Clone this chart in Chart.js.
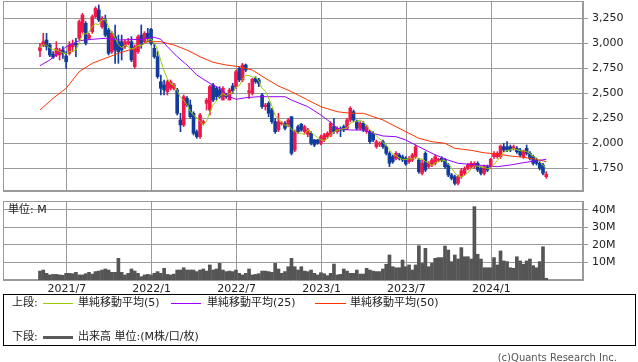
<!DOCTYPE html>
<html>
<head>
<meta charset="utf-8">
<script src="https://cdn.jsdelivr.net/npm/chart.js@4.4.1/dist/chart.umd.min.js"></script>
<style>
body { margin:0; background:#fff; font-family:"DejaVu Sans","Noto Sans CJK JP",sans-serif; }
#wrap { position:relative; width:638px; height:362px; overflow:hidden; }
#price { position:absolute; left:0; top:0; }
#vol { position:absolute; left:0; top:195px; }
.t { position:absolute; font-size:11px; color:#222; white-space:nowrap; line-height:13px; }
.ln { position:absolute; height:1px; }
#legend { position:absolute; left:3px; top:294px; width:633px; height:52px; border:1px solid #000; box-sizing:border-box; }
</style>
</head>
<body>
<div id="wrap">
  <canvas id="price" width="638" height="193"></canvas>
  <canvas id="vol" width="638" height="100"></canvas>
  <span class="t" style="left:8px;top:203px">単位: M</span>
  <div id="legend">
    <span class="t" style="left:8px;top:1px">上段:</span>
    <span class="ln" style="left:39px;top:8px;width:30px;background:#99cc00"></span>
    <span class="t" style="left:74px;top:1px">単純移動平均(5)</span>
    <span class="ln" style="left:167px;top:8px;width:30px;background:#9900ff"></span>
    <span class="t" style="left:203px;top:1px">単純移動平均(25)</span>
    <span class="ln" style="left:311px;top:8px;width:31px;background:#ff3300"></span>
    <span class="t" style="left:346px;top:1px">単純移動平均(50)</span>
    <span class="t" style="left:8px;top:35px">下段:</span>
    <span class="ln" style="left:39px;top:41px;width:30px;height:3px;background:#5a5a5a"></span>
    <span class="t" style="left:74px;top:35px">出来高 単位:(M株/口/枚)</span>
  </div>
  <span class="t" style="right:21px;top:351px;color:#555;font-size:10px">(c)Quants Research Inc.</span>
</div>
<script>
// weekly candles, index 0 = first week shown (May 2021)
var opens = [2926,2976,3033,2983,2890,2883,2883,2933,2873,2900,
2966,3000,3050,3116,3200,3050,3116,3266,3333,3166,
3233,3133,2916,3066,3016,3016,2966,3000,3016,2766,
2916,3083,3016,3100,3140,2950,2866,2616,2583,2516,
2550,2550,2533,2233,2183,2450,2383,2300,2116,2066,
2200,2400,2333,2583,2550,2533,2433,2483,2433,2573,
2566,2750,2633,2783,2510,2500,2650,2633,2483,2366,
2400,2333,2216,2133,2195,2200,2183,2266,1933,2166,
2190,2116,2090,2100,2033,2033,2000,2033,2066,2083,
2166,2116,2150,2166,2150,2233,2316,2216,2150,2200,
2116,2116,2100,1966,1990,2016,1966,1900,1866,1850,
1883,1866,1850,1816,1833,1866,1833,1700,1900,1766,
1783,1800,1830,1850,1833,1783,1683,1666,1600,1666,
1700,1750,1766,1766,1800,1750,1700,1766,1766,1866,
1866,1866,1966,1966,1966,1950,1950,1933,1866,1950,
1900,1866,1833,1800,1783,1666];
var highs = [2999,3100,3100,3000,2916,3016,2950,2966,2916,3016,
3033,3050,3233,3300,3216,3100,3283,3366,3383,3266,
3283,3150,3116,3183,3083,3083,3033,3050,3066,2983,
3083,3183,3116,3150,3150,3000,2916,2683,2633,2633,
2633,2600,2550,2300,2483,2466,2433,2316,2133,2300,
2233,2450,2583,2600,2566,2566,2566,2500,2550,2600,
2733,2766,2800,2793,2600,2650,2666,2650,2500,2400,
2416,2350,2250,2300,2216,2216,2250,2266,2133,2183,
2200,2180,2150,2116,2040,2040,2083,2100,2116,2216,
2250,2166,2166,2183,2250,2366,2333,2233,2216,2216,
2183,2133,2116,2033,2016,2033,1983,1916,1883,1916,
1900,1883,1866,1866,1900,1983,1850,1833,1916,1816,
1850,1883,1850,1866,1850,1800,1700,1683,1683,1750,
1766,1800,1816,1816,1816,1766,1783,1783,1850,1916,
1916,1983,2000,2016,1983,1983,1966,1950,1933,1983,
1916,1883,1850,1816,1800,1716];
var lows = [2866,2966,2933,2866,2850,2866,2833,2850,2750,2883,
2916,2866,3033,3100,2983,3040,3100,3250,3216,3150,
3066,2883,2900,2800,2800,2833,2950,2983,2816,2750,
2900,2950,3000,3016,2983,2850,2650,2483,2483,2483,
2533,2533,2283,2116,2166,2366,2250,2083,2050,2050,
2183,2333,2283,2416,2433,2450,2433,2450,2433,2500,
2550,2616,2616,2716,2450,2483,2600,2566,2350,2333,
2266,2200,2100,2116,2183,2133,2166,1883,1916,2100,
2120,2100,2066,1983,1966,1990,1983,2016,2050,2066,
2100,2100,2066,2116,2133,2216,2216,2133,2133,2116,
2100,2000,2016,1950,1966,1950,1883,1766,1800,1833,
1833,1816,1780,1800,1816,1850,1700,1683,1716,1750,
1766,1783,1816,1816,1750,1666,1633,1583,1583,1650,
1683,1733,1750,1750,1716,1683,1683,1716,1750,1850,
1850,1850,1916,1916,1916,1933,1900,1866,1850,1883,
1833,1783,1783,1733,1683,1650];
var closes = [2956,3016,2966,2883,2860,2950,2933,2900,2816,2983,
2990,2983,3216,3283,3000,3080,3266,3350,3233,3250,
3083,2900,3100,2933,2916,2933,3016,3016,2833,2966,
3066,3000,3100,3050,3000,2866,2666,2550,2533,2616,
2616,2583,2300,2183,2466,2383,2266,2100,2066,2283,
2216,2433,2566,2433,2466,2466,2550,2466,2533,2526,
2716,2633,2783,2733,2525,2640,2616,2600,2366,2383,
2300,2216,2116,2216,2205,2150,2233,1900,2116,2116,
2133,2166,2133,2000,1983,2000,2066,2083,2100,2200,
2116,2150,2130,2133,2233,2350,2233,2150,2200,2133,
2166,2016,2033,2016,2000,1966,1900,1800,1816,1900,
1850,1833,1793,1850,1883,1966,1716,1800,1733,1800,
1833,1866,1840,1826,1766,1683,1650,1600,1666,1726,
1750,1783,1800,1800,1733,1700,1766,1733,1840,1900,
1900,1973,1933,1933,1933,1966,1916,1883,1926,1900,
1850,1800,1800,1750,1700,1690];
// volume, millions
var volumes = [5.1,5.7,3.8,2.9,3.2,3.2,2.9,2.7,3.8,3.8,
3.6,4.4,2.9,2.9,3.6,4.4,3.4,4.8,5.1,5.7,
6.3,5.7,4.4,4.4,12.4,4.4,2.9,3.8,6.3,5.1,
3.8,1.9,2.9,3.2,2.9,3.8,4.8,3.8,6.7,3.2,
2.9,3.4,5.7,5.7,7.0,5.7,5.7,5.7,4.8,5.7,
6.3,5.1,8.6,5.7,6.3,9.5,5.7,4.8,5.1,4.8,
5.7,3.8,2.9,3.8,6.3,2.9,3.2,3.6,5.1,5.1,
4.8,4.4,9.5,6.3,3.8,4.8,7.6,12.4,7.6,5.7,
7.6,5.1,4.8,5.7,3.8,2.9,4.2,3.6,2.5,3.8,
9.1,2.9,3.2,6.3,5.1,3.8,3.8,5.7,3.4,3.4,
6.7,5.7,5.1,4.8,4.8,6.3,9.0,14.3,7.6,7.0,
7.0,11.4,7.6,8.6,5.7,8.6,19.6,9.5,18.1,7.6,
9.5,12.4,12.8,12.8,19.4,17.1,10.5,14.3,12.0,18.5,
13.3,13.3,12.0,41.9,14.7,12.0,7.0,7.0,7.0,12.8,
8.6,16.6,10.9,10.5,7.0,6.7,13.3,10.9,9.0,10.9,
12.0,8.2,7.0,10.5,19.0,1.0];
// moving averages (week index, value)
var ma25Idx = [0,3,8,12,16,20,24,31,35,37,39,42,45,48,52,55,58,60,63,67,75,77,82,86,88,91,95,99,102,105,109,112,116,120,124,128,134,140,144,148,152,155];
var ma25Val = [2776,2833,2966,3026,3040,3050,3033,3040,3060,3040,2966,2866,2783,2683,2600,2550,2466,2440,2456,2466,2466,2433,2366,2283,2233,2150,2133,2133,2100,2073,2066,2033,1966,1900,1843,1800,1783,1766,1783,1806,1826,1840];
var ma50Idx = [0,4,8,12,16,20,24,29,33,37,41,45,49,53,57,61,65,69,73,77,82,86,91,95,99,105,112,116,120,124,127,132,136,140,144,148,152,155];
var ma50Val = [2333,2450,2550,2716,2800,2850,2900,2950,3016,3016,2983,2933,2866,2810,2783,2766,2733,2650,2573,2516,2433,2366,2316,2300,2300,2233,2116,2050,2016,2000,1950,1930,1905,1893,1873,1860,1840,1816];
var tickPos = [8.2,34.2,60.2,86.2,112.2,138.2];
var tickLabels = ['2021/7','2022/1','2022/7','2023/1','2023/7','2024/1'];
var priceTicks = [1750,2000,2250,2500,2750,3000,3250];
var volTicks = [10,20,30,40];

var GRID = '#9a9a9a';
var RED = '#f0184a';
var BLUE = '#123c9c';
var X_MIN = -11.33, X_MAX = 166.25;
var FONT = { family: 'DejaVu Sans', size: 11 };

function sma(src, n) {
    return src.map(function (v, i) {
        var s = src.slice(Math.max(0, i - n + 1), i + 1);
        return s.reduce(function (a, b) { return a + b; }, 0) / s.length;
    });
}
var ma5 = sma(closes, 5);

var colors = closes.map(function (c, i) { return c >= opens[i] ? RED : BLUE; });

var boxPlugin = {
    id: 'box',
    beforeDatasetsDraw: function (chart) {
        var a = chart.chartArea, ctx = chart.ctx;
        ctx.save();
        ctx.strokeStyle = GRID;
        ctx.lineWidth = 1;
        ctx.strokeRect(Math.round(a.left) + 0.5, Math.round(a.top) + 0.5, Math.round(a.right - a.left) - 1, Math.round(a.bottom - a.top) - 1);
        ctx.restore();
    }
};

function noPad(s) {
    s.paddingTop = 0; s.paddingBottom = 0; s.paddingLeft = 0; s.paddingRight = 0;
}

function xScale(showLabels) {
    return {
        type: 'linear', min: X_MIN, max: X_MAX, offset: false,
        afterBuildTicks: function (s) { s.ticks = tickPos.map(function (v) { return { value: v }; }); },
        afterFit: function (s) { s.height = showLabels ? 15 : 0; noPad(s); },
        ticks: {
            display: showLabels, autoSkip: false, maxRotation: 0, padding: 3,
            font: FONT, color: '#222',
            callback: function (v, i) { return tickLabels[i]; }
        },
        grid: { color: GRID, drawTicks: false, offset: false },
        border: { color: GRID }
    };
}

function yScale(min, max, ticks, fmt) {
    return {
        position: 'right', min: min, max: max,
        afterBuildTicks: function (s) { s.ticks = ticks.map(function (v) { return { value: v }; }); },
        afterFit: function (s) { s.width = 55; noPad(s); },
        ticks: { font: FONT, color: '#222', padding: 4, callback: fmt },
        grid: { color: GRID, tickLength: 5 },
        border: { color: GRID }
    };
}

new Chart('price', {
    type: 'bar',
    data: {
        datasets: [
            { type: 'line', data: ma5.map(function (v, i) { return { x: i, y: v }; }), borderColor: '#99cc00', borderWidth: 1, pointRadius: 0, order: 0 },
            { type: 'line', data: ma25Idx.map(function (x, k) { return { x: x, y: ma25Val[k] }; }), borderColor: '#9900ff', borderWidth: 1, pointRadius: 0, order: 0 },
            { type: 'line', data: ma50Idx.map(function (x, k) { return { x: x, y: ma50Val[k] }; }), borderColor: '#ff3300', borderWidth: 1, pointRadius: 0, order: 0 },
            { data: closes.map(function (c, i) { return { x: i, y: [opens[i], c] }; }), backgroundColor: colors, barThickness: 3, minBarLength: 1, grouped: false, order: 1 },
            { data: closes.map(function (c, i) { return { x: i, y: [lows[i], highs[i]] }; }), backgroundColor: colors, barThickness: 1, grouped: false, order: 2 }
        ]
    },
    options: {
        responsive: false, animation: false, devicePixelRatio: 1,
        layout: { padding: { left: 3, top: 1, right: 0, bottom: 2 } },
        plugins: { legend: { display: false }, tooltip: { enabled: false } },
        scales: {
            x: xScale(false),
            y: yScale(1523, 3423, priceTicks, function (v) { return v.toLocaleString('en-US'); })
        }
    },
    plugins: [boxPlugin]
});

new Chart('vol', {
    type: 'bar',
    data: {
        datasets: [
            { data: volumes.map(function (v, i) { return { x: i, y: v }; }), backgroundColor: '#555555', barThickness: 3, grouped: false }
        ]
    },
    options: {
        responsive: false, animation: false, devicePixelRatio: 1,
        layout: { padding: { left: 3, top: 6, right: 0, bottom: 0 } },
        plugins: { legend: { display: false }, tooltip: { enabled: false } },
        scales: {
            x: xScale(true),
            y: yScale(0, 45.14, volTicks, function (v) { return v + 'M'; })
        }
    },
    plugins: [boxPlugin]
});
</script>
</body>
</html>
